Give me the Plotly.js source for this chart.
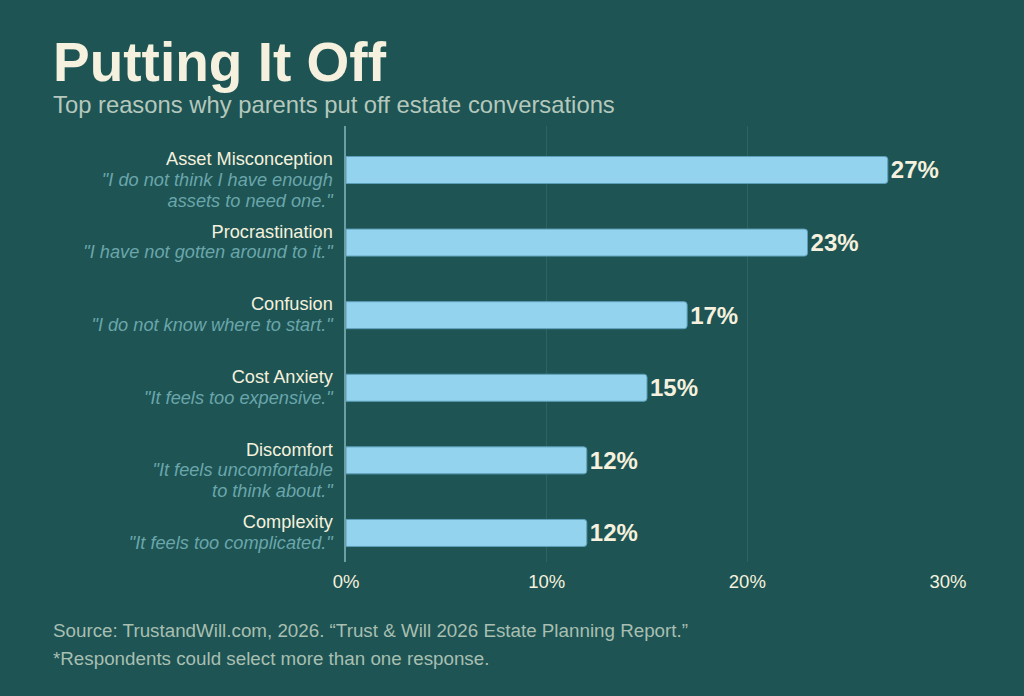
<!DOCTYPE html>
<html>
<head>
<meta charset="utf-8">
<script src="https://cdn.plot.ly/plotly-3.0.1.min.js"></script>
<style>
  html, body { margin: 0; padding: 0; background: #1e5453; }
  #chart { width: 1024px; height: 696px; }
</style>
</head>
<body>
<div id="chart"></div>
<script>
// ---- Data ----
const categories = ["Asset Misconception", "Procrastination", "Confusion", "Cost Anxiety", "Discomfort", "Complexity"];
const quoteLines = [
  ["\"I do not think I have enough", "assets to need one.\""],
  ["\"I have not gotten around to it.\""],
  ["\"I do not know where to start.\""],
  ["\"It feels too expensive.\""],
  ["\"It feels uncomfortable", "to think about.\""],
  ["\"It feels too complicated.\""]
];
const values = [27, 23, 17, 15, 12, 12];
const xTickVals = [0, 10, 20, 30];
const xTickText = ["0%", "10%", "20%", "30%"];
const titleText = "Putting It Off";
const subtitleText = "Top reasons why parents put off estate conversations";
const sourceText = "Source: TrustandWill.com, 2026. \u201cTrust & Will 2026 Estate Planning Report.\u201d";
const noteText = "*Respondents could select more than one response.";

// ---- Styles ----
const BG = "#1e5453";
const CREAM = "#f5f1de";
const QUOTE = "#6aa6ac";
const FONT = "'Liberation Sans', Arial, Helvetica, sans-serif";
const LBL = "18.2px";

const tickLabels = categories.map((c, i) => {
  const q = quoteLines[i];
  let s = '<span style="font-size:' + LBL + ';fill:' + CREAM + '">' + c + '</span>';
  q.forEach(line => {
    s += '<br><span style="font-size:' + LBL + ';font-style:italic;fill:' + QUOTE + '">' + line + '</span>';
  });
  if (q.length > 1) s = '<span style="font-size:' + LBL + '"> </span><br>' + s;
  return s;
});

const trace = {
  type: "bar",
  orientation: "h",
  y: categories,
  x: values,
  width: 0.372,
  marker: { color: "#93d3ee", line: { color: "#5d9fba", width: 1 }, cornerradius: 3 },
  text: values.map(v => v + "%"),
  textposition: "outside",
  constraintext: "none",
  cliponaxis: false,
  textfont: { family: FONT, size: 24, color: CREAM, weight: "bold" },
  hoverinfo: "skip"
};

const PX = -0.490;

const layout = {
  width: 1024,
  height: 696,
  paper_bgcolor: BG,
  plot_bgcolor: BG,
  margin: { l: 346, r: 76, t: 126, b: 134 },
  showlegend: false,
  font: { family: FONT, color: CREAM },
  xaxis: {
    range: [0, 30],
    tickvals: xTickVals,
    ticktext: xTickText,
    showgrid: true,
    gridcolor: "#2b6462",
    gridwidth: 1,
    zeroline: false,
    showline: false,
    ticks: "",
    tickfont: { family: FONT, size: 18.5, color: CREAM },
    ticklabelstandoff: 6,
    fixedrange: true
  },
  yaxis: {
    type: "category",
    range: [5.4, -0.606],
    tickvals: categories,
    ticktext: tickLabels,
    showgrid: false,
    zeroline: false,
    showline: true,
    linecolor: "#6a9fa6",
    linewidth: 2,
    ticks: "",
    tickfont: { family: FONT, size: 15.9, color: CREAM },
    ticklabelstandoff: 8,
    automargin: false,
    fixedrange: true
  },
  annotations: [
    { text: "<b>" + titleText + "</b>", xref: "paper", yref: "paper", x: PX, y: 1.1468, xanchor: "left", yanchor: "middle", showarrow: false, font: { family: FONT, size: 55, color: CREAM } },
    { text: subtitleText, xref: "paper", yref: "paper", x: PX, y: 1.0493, xanchor: "left", yanchor: "middle", showarrow: false, font: { family: FONT, size: 23.8, color: "#b5c8bd" } },
    { text: sourceText, xref: "paper", yref: "paper", x: PX, y: -0.156, xanchor: "left", yanchor: "middle", showarrow: false, font: { family: FONT, size: 18.8, color: "#a8bfb2" } },
    { text: noteText, xref: "paper", yref: "paper", x: PX, y: -0.2202, xanchor: "left", yanchor: "middle", showarrow: false, font: { family: FONT, size: 18.8, color: "#a8bfb2" } }
  ]
};

Plotly.newPlot("chart", [trace], layout, { displayModeBar: false, staticPlot: true });
</script>
</body>
</html>
